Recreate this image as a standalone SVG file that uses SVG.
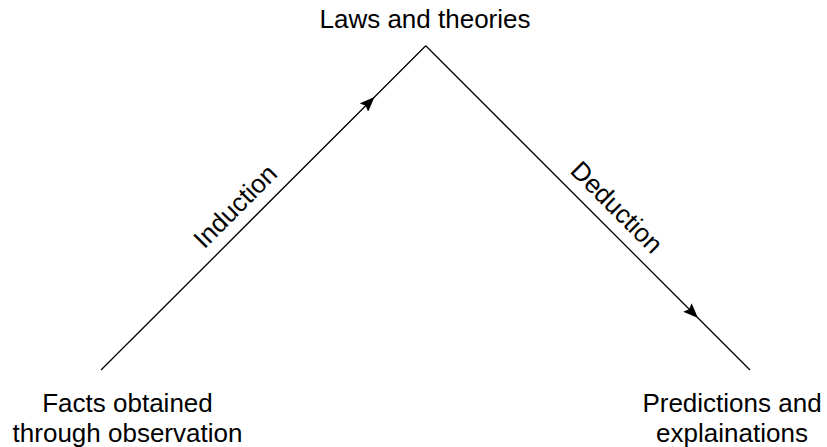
<svg xmlns="http://www.w3.org/2000/svg" width="827" height="447" viewBox="0 0 827 447">
  <style>
    .lbl { font-family: "Liberation Sans", Arial, sans-serif; font-size: 26px; fill: #000; text-anchor: middle; }
    .edge { fill: none; stroke: #000; stroke-width: 1.3; }
  </style>
  <defs>
    <marker id="arrow" markerUnits="userSpaceOnUse" viewBox="0 0 15 12" refX="15" refY="6" markerWidth="15" markerHeight="12" orient="auto">
      <path d="M0,0 L15,6 L0,12 L2.5,6 z" fill="#000"/>
    </marker>
  </defs>
  <rect width="827" height="447" fill="#fff"/>
  <g id="connectors">
    <path class="edge" d="M101,370 L374.5,97 L425.75,45.75" marker-mid="url(#arrow)"/>
    <path class="edge" d="M425.75,45.75 L698,318 L750,370" marker-mid="url(#arrow)"/>
    <text class="lbl" transform="translate(241.5,212.5) rotate(-45)">Induction</text>
    <text class="lbl" transform="translate(610.5,213.5) rotate(45)">Deduction</text>
  </g>
  <g id="laws">
    <text class="lbl" x="425" y="28">Laws and theories</text>
  </g>
  <g id="facts">
    <text class="lbl" x="127.5" y="412">Facts obtained</text>
    <text class="lbl" x="127.5" y="442">through observation</text>
  </g>
  <g id="predictions">
    <text class="lbl" x="732" y="412">Predictions and</text>
    <text class="lbl" x="732" y="442">explainations</text>
  </g>
</svg>
